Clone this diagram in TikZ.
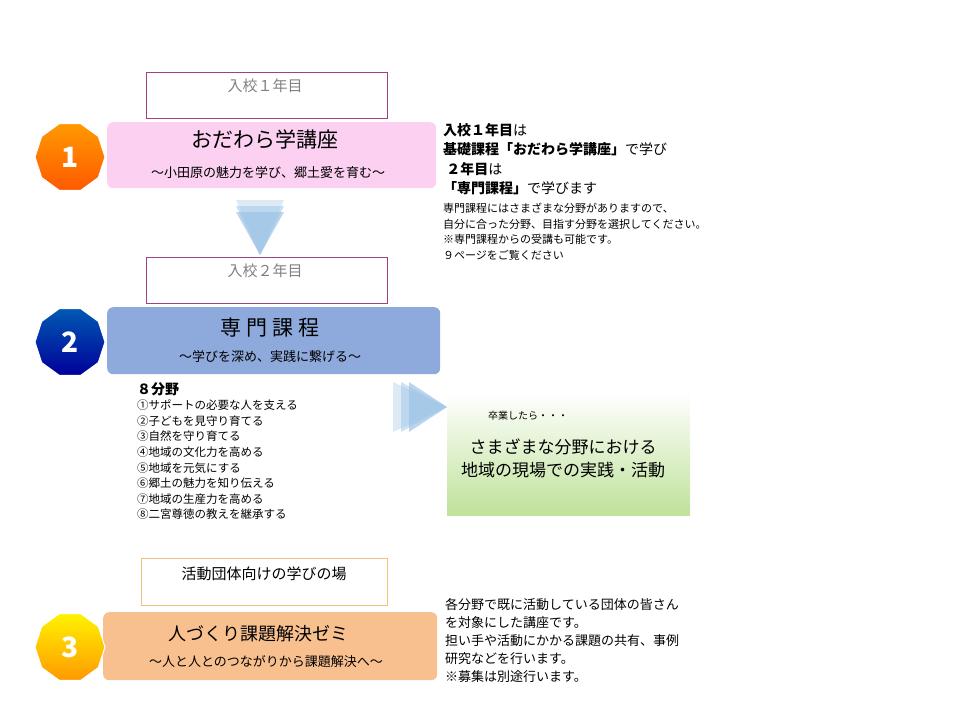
\documentclass[tikz,border=0pt]{standalone}
\usepackage{fontspec}
\setmainfont{Noto Sans CJK JP}
\usetikzlibrary{shapes.geometric}
\definecolor{pinkbox}{HTML}{FBD0F0}
\definecolor{bluebox}{HTML}{8EA9DB}
\definecolor{orangebox}{HTML}{F8C08E}
\definecolor{framepurple}{HTML}{A0407F}
\definecolor{frameorange}{HTML}{F2C27A}
\definecolor{arrowblue}{HTML}{9DC3E6}
\definecolor{palegreen}{HTML}{BFE29A}
\tikzset{
  yearbox/.style={draw=framepurple, minimum width=241pt, minimum height=46pt, anchor=north west},
  coursebox/.style={rounded corners=6pt, anchor=north west, minimum height=66pt},
  badge/.style={regular polygon, regular polygon sides=10, minimum size=70pt, inner sep=0pt,
    text=white, font=\fontsize{28pt}{28pt}\selectfont\bfseries, draw=white, line width=1pt},
  note/.style={anchor=north west, align=left, inner sep=0pt}
}
\begin{document}
\begin{tikzpicture}[x=1pt,y=-1pt]
\useasboundingbox (0,0) rectangle (960,720);

% step 1
\node[yearbox] (y1) at (146,72) {};
\node[text=gray, font=\fontsize{15pt}{15pt}\selectfont] at (265,86) {入校１年目};
\node[coursebox, fill=pinkbox, minimum width=329pt] (c1) at (107,122) {};
\node[font=\fontsize{21pt}{21pt}\selectfont] at (265,139) {おだわら学講座};
\node[font=\fontsize{13pt}{13pt}\selectfont] at (268,173) {～小田原の魅力を学び、郷土愛を育む～};
\node[badge, top color=orange!80!yellow, bottom color=orange!70!red] (b1) at (70,157) {1};

% down arrow
\foreach \d/\o in {0/0.35,6/0.5,12/0.7} {
  \fill[arrowblue, opacity=\o] (236,200+\d) -- (284,200+\d) -- (260,255) -- cycle;
}

% step 2
\node[yearbox] (y2) at (146,257) {};
\node[text=gray, font=\fontsize{15pt}{15pt}\selectfont] at (265,271) {入校２年目};
\node[coursebox, fill=bluebox, minimum width=333pt, minimum height=67pt] (c2) at (107,307) {};
\node[font=\fontsize{21pt}{21pt}\selectfont] at (270,328) {専 門 課 程};
\node[font=\fontsize{13pt}{13pt}\selectfont] at (270,357) {～学びを深め、実践に繋げる～};
\node[badge, top color=blue!50!cyan!70!black, bottom color=blue!60!black] (b2) at (70,342) {2};

\node[note, font=\fontsize{11.5pt}{15.6pt}\selectfont] (list) at (137,382) {\textbf{\fontsize{14pt}{16pt}\selectfont ８分野}\\
①サポートの必要な人を支える\\
②子どもを見守り育てる\\
③自然を守り育てる\\
④地域の文化力を高める\\
⑤地域を元気にする\\
⑥郷土の魅力を知り伝える\\
⑦地域の生産力を高める\\
⑧二宮尊徳の教えを継承する};

% right arrow
\foreach \d/\o in {0/0.35,8/0.5,16/0.7} {
  \fill[arrowblue, opacity=\o] (393+\d,382) -- (393+\d,432) -- (447,407) -- cycle;
}
\fill[bottom color=palegreen, top color=white] (447,392) rectangle (690,515);
\fill[left color=white, right color=white, middle color=white, opacity=0] (447,392) rectangle (690,515);
\node[font=\fontsize{10pt}{10pt}\selectfont] at (528,416) {卒業したら・・・};
\node[align=center, font=\fontsize{17pt}{23pt}\selectfont] at (563,458) {さまざまな分野における\\地域の現場での実践・活動};

% note 1
\node[note, font=\fontsize{14pt}{19.5pt}\selectfont] (n1) at (443,123) {\textbf{入校１年目}は\\\textbf{基礎課程「おだわら学講座」}で学び\\\ \textbf{２年目}は\\\textbf{「専門課程」}で学びます};
\node[note, font=\fontsize{11pt}{15.5pt}\selectfont] (n2) at (443,203) {専門課程にはさまざまな分野がありますので、\\自分に合った分野、目指す分野を選択してください。\\※専門課程からの受講も可能です。\\９ページをご覧ください};

% step 3
\node[yearbox, draw=frameorange, minimum width=246pt, minimum height=47pt] (y3) at (141,558) {};
\node[font=\fontsize{15pt}{15pt}\selectfont] at (264,574) {活動団体向けの学びの場};
\node[coursebox, fill=orangebox, minimum width=334pt, minimum height=68pt] (c3) at (103,612) {};
\node[font=\fontsize{18pt}{18pt}\selectfont] at (258,634) {人づくり課題解決ゼミ};
\node[font=\fontsize{13pt}{13pt}\selectfont] at (266,662) {～人と人とのつながりから課題解決へ～};
\node[badge, top color=yellow!90!orange, bottom color=orange!80!yellow] (b3) at (70,647) {3};

\node[note, font=\fontsize{13pt}{18pt}\selectfont] (n3) at (445,598) {各分野で既に活動している団体の皆さん\\を対象にした講座です。\\担い手や活動にかかる課題の共有、事例\\研究などを行います。\\※募集は別途行います。};
\end{tikzpicture}
\end{document}
